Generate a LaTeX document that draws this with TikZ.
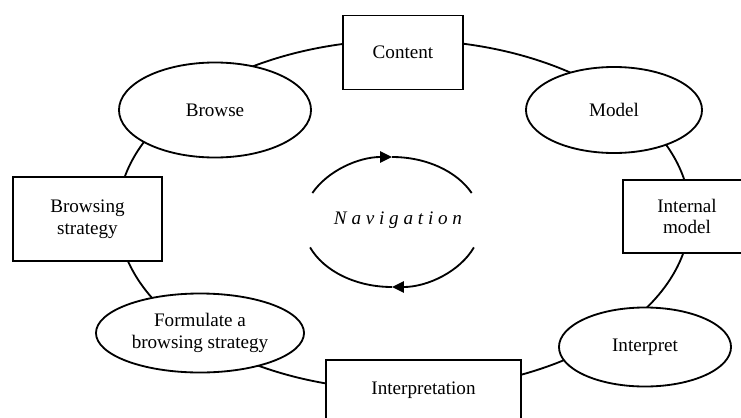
\documentclass[tikz,border=0pt]{standalone}
\usepackage{fontspec}
\setmainfont{Liberation Serif}
\usetikzlibrary{shapes.geometric,arrows.meta}

\begin{document}
\begin{tikzpicture}[
            x=0.025cm, y=0.025cm,
            line width=1.3pt,
            box/.style={rectangle, draw, fill=white, inner sep=0pt, align=center, font=\fontsize{13.6}{15.5}\selectfont},
            oval/.style={ellipse, draw, fill=white, inner sep=0pt, align=center, font=\fontsize{13.6}{15.5}\selectfont},
            tip/.style={-{Triangle[length=8.5pt,width=8pt]}}
        ]
            \clip (0,0) rectangle (741,417);
            % the outer cycle
            \draw (404,202) ellipse [x radius=7.15cm, y radius=4.375cm];

            \node[box, minimum width=3cm, minimum height=1.85cm] (content) at (403,364.5) {Content};
            \node[oval, minimum width=4.4cm, minimum height=2.15cm] (model) at (614,307) {Model};
            \node[box, minimum width=3.2cm, minimum height=1.825cm] (intmodel) at (687,200.5) {Internal\\model};
            \node[oval, minimum width=4.3cm, minimum height=1.975cm] (interpret) at (645,70) {Interpret};
            \node[box, minimum width=4.875cm, minimum height=1.5cm] (interpretation) at (423.5,27) {Interpretation};
            \node[oval, minimum width=5.2cm, minimum height=1.975cm] (formulate) at (200,84) {Formulate a\\browsing strategy};
            \node[box, minimum width=3.725cm, minimum height=2.1cm] (strategy) at (87.5,198) {Browsing\\strategy};
            \node[oval, minimum width=4.8cm, minimum height=2.375cm] (browse) at (215,307) {Browse};

            % navigation loop
            \node[font={\fontsize{13.6}{16}\selectfont\itshape\addfontfeature{LetterSpace=25}}] (nav) at (398,197) {Navigation};
            \draw[tip] (312.4,224) arc[start angle=153.5, end angle=90, x radius=2.225cm, y radius=1.625cm];
            \draw (392,260) arc[start angle=90, end angle=26.5, x radius=2.225cm, y radius=1.625cm];
            \draw[tip] (473.9,169.6) arc[start angle=-23, end angle=-90, x radius=2.225cm, y radius=1.625cm];
            \draw (392,130) arc[start angle=-90, end angle=-157, x radius=2.225cm, y radius=1.625cm];
        \end{tikzpicture}
\end{document}
